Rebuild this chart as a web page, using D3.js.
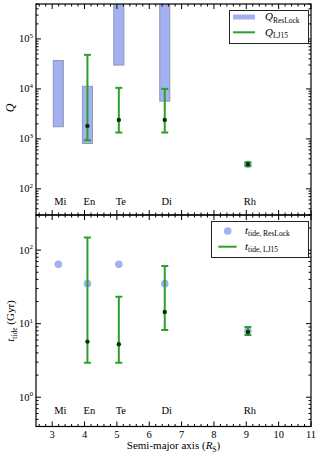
<!DOCTYPE html>
<html><head><meta charset="utf-8">
<script src="https://cdn.jsdelivr.net/npm/d3@7"></script>
<style>body{margin:0;background:#fff}svg, svg text{font-family:"Liberation Serif","Times New Roman",Times,serif}</style>
</head><body><svg id="c" width="321" height="458" font-family="Liberation Serif, Times New Roman, Times, serif"></svg>
<script>
const moons = ["Mi","En","Te","Di","Rh"];
const semiMajor = [3.19, 4.09, 5.06, 6.48, 9.05];
const qResLockLow  = [1.75e3, 8.1e2, 3.0e4, 5.7e3, 310];
const qResLockHigh = [3.7e4, 1.13e4, 1e6, 1e6, 310];
const qLJ15     = [null, 1.82e3, 2.4e3, 2.4e3, 310];
const qLJ15Low  = [null, 940, 1.34e3, 1.34e3, 285];
const qLJ15High = [null, 4.8e4, 1.05e4, 1.0e4, 340];
const tResLock  = [64, 35, 64, 35, 8.0];
const tLJ15     = [null, 5.7, 5.25, 14.4, 7.7];
const tLJ15Low  = [null, 2.95, 2.95, 8.2, 7.0];
const tLJ15High = [null, 148, 23.2, 60.7, 9.0];
const xTicks = [3,4,5,6,7,8,9,10,11];
const qTicks = [1e2,1e3,1e4,1e5];
const tTicks = [1e0,1e1,1e2];

const blueFill = "rgba(72,100,225,0.5)";
const green = "#2ca02c";
const dark = "#0d2e0d";
const FONT = "'Liberation Serif', 'Times New Roman', Times, serif";

const svg = d3.select("#c");
const L = 36, R = 311;
const x = d3.scaleLinear([2.5, 11], [L, R]);
const yTop = d3.scaleLog([30, 5e5], [215, 4]);
const yBot = d3.scaleLog([0.4, 300], [426.5, 215]);

function txt(sel) { return sel.append("text").attr("font-family", FONT).attr("fill", "#000"); }

function panel(id, y) {
  const [y0, y1] = [y.range()[1], y.range()[0]];
  svg.append("clipPath").attr("id", id).append("rect")
    .attr("x", L).attr("y", y0).attr("width", R - L).attr("height", y1 - y0);
  return svg.append("g").attr("clip-path", `url(#${id})`);
}

function frame(y, labels) {
  const [yT, yB] = [y.range()[1], y.range()[0]];
  const g = svg.append("g").attr("stroke", "#000").attr("fill", "none");
  const minorX = d3.range(26, 111, 2).map(v => v / 10).filter(v => !xTicks.includes(v));
  for (const v of xTicks) {
    g.append("line").attr("x1", x(v)).attr("x2", x(v)).attr("y1", yB).attr("y2", yB - 5);
    g.append("line").attr("x1", x(v)).attr("x2", x(v)).attr("y1", yT).attr("y2", yT + 5);
  }
  for (const v of minorX) {
    g.append("line").attr("x1", x(v)).attr("x2", x(v)).attr("y1", yB).attr("y2", yB - 2.5);
    g.append("line").attr("x1", x(v)).attr("x2", x(v)).attr("y1", yT).attr("y2", yT + 2.5);
  }
  const [d0, d1] = y.domain();
  const e0 = Math.floor(Math.log10(d0)), e1 = Math.ceil(Math.log10(d1));
  for (let e = e0; e <= e1; e++) {
    for (let m = 1; m < 10; m++) {
      const v = m * Math.pow(10, e);
      if (v < d0 || v > d1) continue;
      const len = m === 1 ? 5 : 2.5;
      g.append("line").attr("x1", L).attr("x2", L + len).attr("y1", y(v)).attr("y2", y(v));
      g.append("line").attr("x1", R).attr("x2", R - len).attr("y1", y(v)).attr("y2", y(v));
    }
  }
  g.append("rect").attr("x", L).attr("y", yT).attr("width", R - L).attr("height", yB - yT)
    .attr("stroke-width", 1.2);
  for (const v of labels) {
    const t = txt(svg).attr("x", L - 3).attr("y", y(v) + 3.5)
      .attr("text-anchor", "end").attr("font-size", 10.5);
    t.append("tspan").text("10");
    t.append("tspan").attr("font-size", 7).attr("dy", -4.5).text(Math.round(Math.log10(v)));
  }
}

function moonLabels(yPos) {
  moons.forEach((m, i) => {
    txt(svg).attr("x", x(semiMajor[i]) + 2).attr("y", yPos)
      .attr("text-anchor", "middle").attr("font-size", 10.5).text(m);
  });
}

function errorBars(g, y, mid, lo, hi) {
  semiMajor.forEach((a, i) => {
    if (mid[i] == null) return;
    const cx = x(a);
    g.append("line").attr("x1", cx).attr("x2", cx).attr("y1", y(lo[i])).attr("y2", y(hi[i]))
      .attr("stroke", green).attr("stroke-width", 2);
    for (const v of [lo[i], hi[i]]) {
      g.append("line").attr("x1", cx - 3.5).attr("x2", cx + 3.5).attr("y1", y(v)).attr("y2", y(v))
        .attr("stroke", green).attr("stroke-width", 2);
    }
    g.append("circle").attr("cx", cx).attr("cy", y(mid[i])).attr("r", 2.2).attr("fill", dark);
  });
}

// ---------- top panel ----------
const gT = panel("clipTop", yTop);
semiMajor.forEach((a, i) => {
  if (qResLockLow[i] === qResLockHigh[i]) {
    gT.append("circle").attr("cx", x(a)).attr("cy", yTop(qResLockLow[i])).attr("r", 3.8)
      .attr("fill", blueFill);
  } else {
    const w = x(a + 0.155) - x(a - 0.155);
    gT.append("rect").attr("x", x(a - 0.155)).attr("width", w)
      .attr("y", yTop(qResLockHigh[i])).attr("height", yTop(qResLockLow[i]) - yTop(qResLockHigh[i]))
      .attr("fill", blueFill).attr("stroke", "#8f97b5").attr("stroke-width", 1);
  }
});
errorBars(gT, yTop, qLJ15, qLJ15Low, qLJ15High);
frame(yTop, qTicks);
moonLabels(204.5);

// ---------- bottom panel ----------
const gB = panel("clipBot", yBot);
semiMajor.forEach((a, i) => {
  gB.append("circle").attr("cx", x(a)).attr("cy", yBot(tResLock[i])).attr("r", 3.8).attr("fill", blueFill);
});
errorBars(gB, yBot, tLJ15, tLJ15Low, tLJ15High);
frame(yBot, tTicks);
moonLabels(414);

for (const v of xTicks) {
  txt(svg).attr("x", x(v)).attr("y", 437.5).attr("text-anchor", "middle")
    .attr("font-size", 10.5).text(v);
}
{
  const t = txt(svg).attr("x", (L + R) / 2).attr("y", 449).attr("text-anchor", "middle").attr("font-size", 11);
  t.append("tspan").text("Semi-major axis (");
  t.append("tspan").attr("font-style", "italic").text("R");
  t.append("tspan").attr("font-size", 7.5).attr("dy", 2.5).text("S");
  t.append("tspan").attr("dy", -2.5).text(")");
}
txt(svg).attr("transform", "translate(14,108) rotate(-90)").attr("text-anchor", "middle")
  .attr("font-size", 12).attr("font-style", "italic").text("Q");
{
  const t = txt(svg).attr("transform", "translate(14,321) rotate(-90)").attr("text-anchor", "middle").attr("font-size", 11);
  t.append("tspan").attr("font-style", "italic").text("t");
  t.append("tspan").attr("font-size", 7.5).attr("dy", 2.5).text("tide");
  t.append("tspan").attr("dy", -2.5).text(" (Gyr)");
}

// ---------- legends ----------
{
  const g = svg.append("g");
  g.append("rect").attr("x", 229.5).attr("y", 10.5).attr("width", 79).attr("height", 33)
    .attr("fill", "#fff").attr("stroke", "#222").attr("stroke-width", 1);
  g.append("rect").attr("x", 233).attr("y", 14.5).attr("width", 22).attr("height", 5).attr("fill", blueFill);
  g.append("line").attr("x1", 233).attr("x2", 255).attr("y1", 32.3).attr("y2", 32.3).attr("stroke", green).attr("stroke-width", 2);
  const t1 = txt(g).attr("x", 265).attr("y", 20).attr("font-size", 11);
  t1.append("tspan").attr("font-style", "italic").text("Q");
  t1.append("tspan").attr("font-size", 7.5).attr("dy", 2.5).text("ResLock");
  const t2 = txt(g).attr("x", 265).attr("y", 35.5).attr("font-size", 11);
  t2.append("tspan").attr("font-style", "italic").text("Q");
  t2.append("tspan").attr("font-size", 7.5).attr("dy", 2.5).text("LJ15");
}
{
  const g = svg.append("g");
  g.append("rect").attr("x", 211.5).attr("y", 221.5).attr("width", 97).attr("height", 36)
    .attr("fill", "#fff").attr("stroke", "#222").attr("stroke-width", 1);
  g.append("circle").attr("cx", 227.7).attr("cy", 231).attr("r", 3.8).attr("fill", blueFill);
  g.append("line").attr("x1", 218.3).attr("x2", 236.7).attr("y1", 246.7).attr("y2", 246.7).attr("stroke", green).attr("stroke-width", 2);
  const t1 = txt(g).attr("x", 245).attr("y", 233.5).attr("font-size", 11);
  t1.append("tspan").attr("font-style", "italic").text("t");
  t1.append("tspan").attr("font-size", 7.5).attr("dy", 2.5).text("tide, ResLock");
  const t2 = txt(g).attr("x", 245).attr("y", 249.5).attr("font-size", 11);
  t2.append("tspan").attr("font-style", "italic").text("t");
  t2.append("tspan").attr("font-size", 7.5).attr("dy", 2.5).text("tide, LJ15");
}
</script></body></html>
